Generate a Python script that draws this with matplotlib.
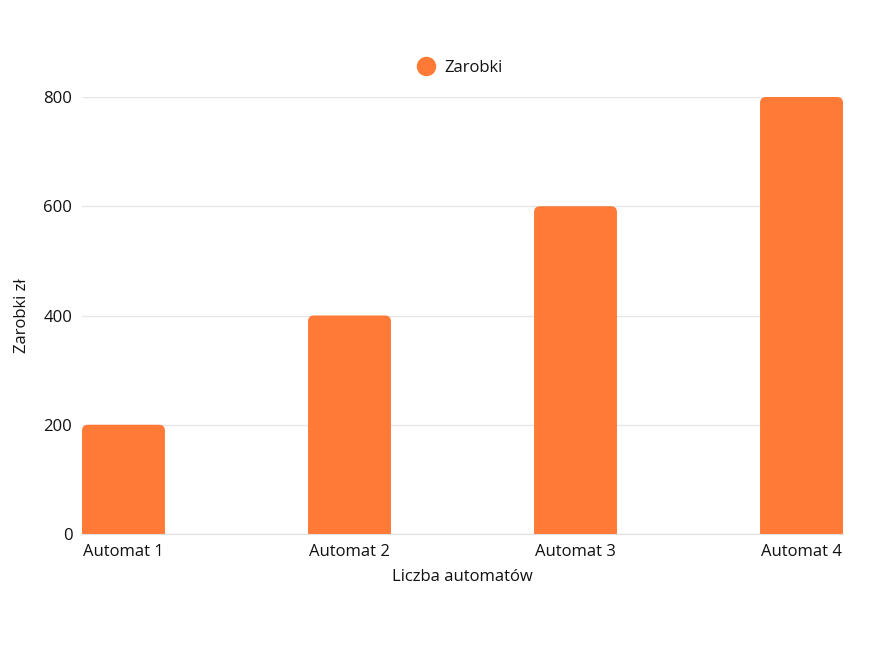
import matplotlib
matplotlib.use("Agg")
import matplotlib.pyplot as plt
from matplotlib.patches import FancyBboxPatch

categories = ["Automat 1", "Automat 2", "Automat 3", "Automat 4"]
zarobki = [200, 400, 600, 800]
yticks = [0, 200, 400, 600, 800]

plt.rcParams['font.family'] = ['Open Sans', 'DejaVu Sans']
color = "#FF7A37"
txt = "#111111"
W, H = 872, 672
bar_w = 0.367

fig = plt.figure(figsize=(W / 100, H / 100), dpi=100)
ax = fig.add_axes([82 / W, 1 - 534 / H, (843 - 82) / W, (534 - 97) / H])

xs = list(range(len(categories)))
bars = ax.bar(xs, zarobki, width=bar_w, color=color, label="Zarobki")
ax.set_xlim(-bar_w / 2, len(categories) - 1 + bar_w / 2)
ax.set_ylim(0, 800)

# swap plain bars for bars with rounded tops
px_x = (843 - 82) / (ax.get_xlim()[1] - ax.get_xlim()[0])
px_y = (534 - 97) / 800
r = 6
rx, ry = r / px_x, r / px_y
for b in bars:
    b.set_visible(False)
    p = FancyBboxPatch((b.get_x(), -ry), b.get_width(), b.get_height() + ry,
                       boxstyle=f"round,pad=0,rounding_size={rx}",
                       mutation_aspect=ry / rx, facecolor=color,
                       edgecolor="none", clip_on=True)
    ax.add_patch(p)

ax.set_xticks(xs)
ax.set_xticklabels(categories)
ax.set_yticks(yticks)
ax.tick_params(length=0, labelsize=12, colors=txt, pad=7)
ax.grid(axis="y", color="#e6e6e6", linewidth=1)
ax.set_axisbelow(True)
for s in ["top", "right", "left"]:
    ax.spines[s].set_visible(False)
ax.spines["bottom"].set_color("#e0e0e0")

ax.set_ylabel("Zarobki zł", fontsize=12, color=txt, labelpad=10)
ax.set_xlabel("Liczba automatów", fontsize=12, color=txt, labelpad=7)

h = plt.Line2D([], [], marker="o", linestyle="none", markersize=13,
               markerfacecolor=color, markeredgecolor=color)
fig.legend([h], ["Zarobki"], loc="center", bbox_to_anchor=(456 / W, 1 - 68 / H),
           frameon=False, fontsize=12, handletextpad=0.1, labelcolor=txt)

fig.savefig("out.png", dpi=100)
